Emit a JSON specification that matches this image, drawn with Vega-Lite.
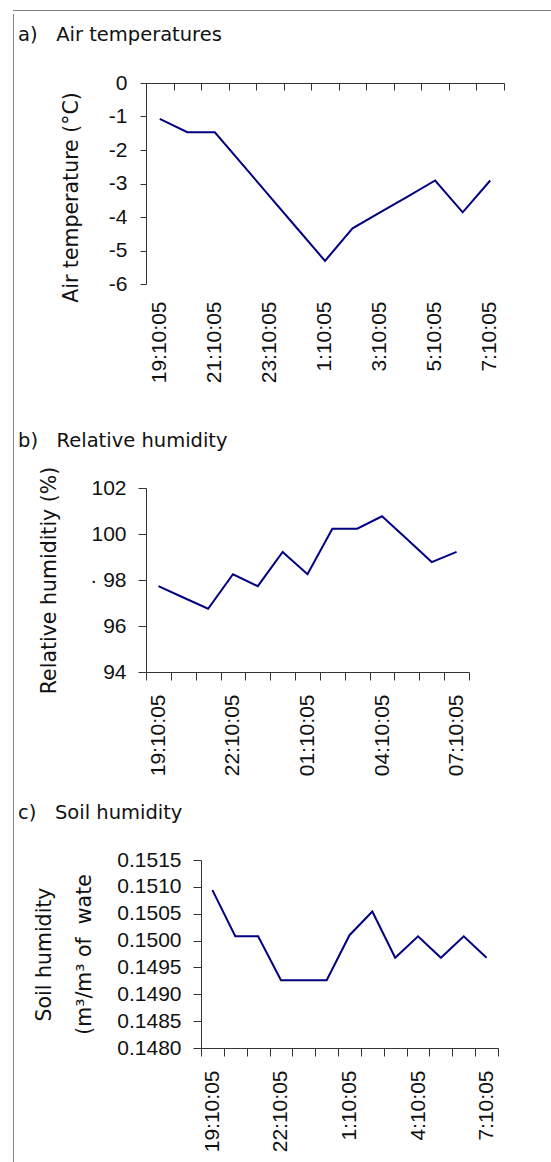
{
  "$schema": "https://vega.github.io/schema/vega-lite/v6.json",
  "padding": {"left": 10, "top": 7, "right": 0, "bottom": 0},
  "background": "white",
  "config": {
    "view": {"stroke": null},
    "font": "DejaVu Sans",
    "axis": {
      "labelFont": "Liberation Sans",
      "labelFontSize": 21,
      "labelColor": "#111111",
      "titleFont": "DejaVu Sans",
      "titleFontSize": 20.5,
      "titleFontWeight": "normal",
      "titleColor": "#111111",
      "domainColor": "#333333",
      "tickColor": "#333333",
      "grid": false,
      "labelOverlap": false,
      "labelFlush": false
    },
    "title": {
      "font": "DejaVu Sans",
      "fontSize": 19.5,
      "fontWeight": "normal",
      "color": "#111111",
      "anchor": "start",
      "frame": "group",
      "baseline": "alphabetic"
    },
    "line": {"color": "#000080", "strokeWidth": 2}
  },
  "datasets": {
    "air": [
      {"time": "19:10:05", "temp": -1.07},
      {"time": "20:10:05", "temp": -1.47},
      {"time": "21:10:05", "temp": -1.47},
      {"time": "22:10:05", "temp": -2.43},
      {"time": "23:10:05", "temp": -3.39},
      {"time": "0:10:05", "temp": -4.35},
      {"time": "1:10:05", "temp": -5.31},
      {"time": "2:10:05", "temp": -4.34},
      {"time": "3:10:05", "temp": -3.86},
      {"time": "4:10:05", "temp": -3.39},
      {"time": "5:10:05", "temp": -2.91},
      {"time": "6:10:05", "temp": -3.86},
      {"time": "7:10:05", "temp": -2.91}
    ],
    "rh": [
      {"time": "19:10:05", "rh": 97.73},
      {"time": "20:10:05", "rh": 97.24},
      {"time": "21:10:05", "rh": 96.75},
      {"time": "22:10:05", "rh": 98.25},
      {"time": "23:10:05", "rh": 97.73},
      {"time": "00:10:05", "rh": 99.22},
      {"time": "01:10:05", "rh": 98.25},
      {"time": "02:10:05", "rh": 100.23},
      {"time": "03:10:05", "rh": 100.23},
      {"time": "04:10:05", "rh": 100.77},
      {"time": "05:10:05", "rh": 99.78},
      {"time": "06:10:05", "rh": 98.78},
      {"time": "07:10:05", "rh": 99.22}
    ],
    "soil": [
      {"time": "19:10:05", "sh": 0.15094},
      {"time": "20:10:05", "sh": 0.15008},
      {"time": "21:10:05", "sh": 0.15008},
      {"time": "22:10:05", "sh": 0.14926},
      {"time": "23:10:05", "sh": 0.14926},
      {"time": "0:10:05", "sh": 0.14926},
      {"time": "1:10:05", "sh": 0.1501},
      {"time": "2:10:05", "sh": 0.15054},
      {"time": "3:10:05", "sh": 0.14968},
      {"time": "4:10:05", "sh": 0.15008},
      {"time": "5:10:05", "sh": 0.14968},
      {"time": "6:10:05", "sh": 0.15008},
      {"time": "7:10:05", "sh": 0.14968}
    ]
  },
  "spacing": 0,
  "vconcat": [
    {
      "width": 541,
      "height": 1,
      "view": {"fill": "#808080", "stroke": null},
      "data": {"values": [{}]},
      "mark": {"type": "point", "opacity": 0},
      "encoding": {}
    },
    {
      "spacing": 1,
      "hconcat": [
        {
          "width": 1,
          "height": 1154,
          "view": {"fill": "#808080", "stroke": null},
          "data": {"values": [{}]},
          "mark": {"type": "point", "opacity": 0},
          "encoding": {}
        },
        {
          "spacing": 0,
          "vconcat": [
            {
              "width": 1,
              "height": 10,
              "view": {"fill": "white", "stroke": null},
              "data": {"values": [{}]},
              "mark": {"type": "point", "opacity": 0},
              "encoding": {}
            },
            {
              "spacing": 47,
              "vconcat": [
                {
                  "width": 358,
                  "height": 201,
                  "title": {"text": "a)\u00a0\u00a0\u00a0Air temperatures", "dx": -128, "offset": 27},
                  "data": {"name": "air"},
                  "encoding": {
                    "y": {
                      "field": "temp",
                      "type": "quantitative",
                      "scale": {"domain": [-6, 0], "nice": false, "zero": false},
                      "axis": {
                        "title": "Air temperature (°C)",
                        "values": [0, -1, -2, -3, -4, -5, -6],
                        "tickSize": 6,
                        "labelPadding": 13,
                        "titlePadding": 27,
                        "titleY": 114,
                        "labelExpr": "replace(datum.label, '\u2212', '-')"
                      }
                    }
                  },
                  "layer": [
                    {
                      "mark": "line",
                      "encoding": {
                        "x": {
                          "field": "time",
                          "type": "ordinal",
                          "sort": null,
                          "scale": {"type": "band", "paddingInner": 0, "paddingOuter": 0},
                          "axis": {
                            "orient": "bottom",
                            "title": null,
                            "domain": false,
                            "ticks": false,
                            "tickSize": 0,
                            "labelAngle": -90,
                            "labelPadding": 17,
                            "labelExpr": "indexof(['19:10:05','21:10:05','23:10:05','1:10:05','3:10:05','5:10:05','7:10:05'], datum.value) >= 0 ? datum.label : ''"
                          }
                        }
                      }
                    },
                    {
                      "mark": {"type": "point", "opacity": 0},
                      "encoding": {
                        "x": {
                          "field": "time",
                          "type": "ordinal",
                          "sort": null,
                          "scale": {"type": "band", "paddingInner": 0, "paddingOuter": 0},
                          "axis": {
                            "orient": "top",
                            "title": null,
                            "labels": false,
                            "tickBand": "extent",
                            "tickSize": -7
                          }
                        }
                      }
                    }
                  ],
                  "resolve": {"axis": {"x": "independent"}}
                },
                {
                  "spacing": 26,
                  "vconcat": [
                    {
                      "width": 323,
                      "height": 184,
                      "title": {"text": "b)\u00a0\u00a0\u00a0Relative humidity", "dx": -128, "offset": 15},
                      "data": {"name": "rh"},
                      "mark": "line",
                      "encoding": {
                        "x": {
                          "field": "time",
                          "type": "ordinal",
                          "sort": null,
                          "scale": {"type": "band", "paddingInner": 0, "paddingOuter": 0},
                          "axis": {
                            "title": null,
                            "tickBand": "extent",
                            "tickSize": 8,
                            "labelPadding": 14,
                            "labelAngle": -90,
                            "labelExpr": "indexof(['19:10:05','22:10:05','01:10:05','04:10:05','07:10:05'], datum.value) >= 0 ? datum.label : ''"
                          }
                        },
                        "y": {
                          "field": "rh",
                          "type": "quantitative",
                          "scale": {"domain": [94, 102], "nice": false, "zero": false},
                          "axis": {
                            "title": "Relative humiditiy (%)",
                            "values": [94, 96, 98, 100, 102],
                            "tickSize": 8,
                            "labelPadding": 12,
                            "titlePadding": 30,
                            "labelExpr": "datum.value == 98 ? '· 98' : datum.label"
                          }
                        }
                      }
                    },
                    {
                      "width": 352,
                      "height": 188,
                      "title": {"text": "c)\u00a0\u00a0\u00a0Soil humidity", "dx": -128, "offset": 26},
                      "data": {"name": "soil"},
                      "mark": "line",
                      "encoding": {
                        "x": {
                          "field": "time",
                          "type": "ordinal",
                          "sort": null,
                          "scale": {"type": "band", "paddingInner": 0, "paddingOuter": 0, "range": [55, 352]},
                          "axis": {
                            "title": null,
                            "tickBand": "extent",
                            "tickSize": 8,
                            "labelPadding": 14,
                            "labelAngle": -90,
                            "labelExpr": "indexof(['19:10:05','22:10:05','1:10:05','4:10:05','7:10:05'], datum.value) >= 0 ? datum.label : ''"
                          }
                        },
                        "y": {
                          "field": "sh",
                          "type": "quantitative",
                          "scale": {"domain": [0.148, 0.1515], "nice": false, "zero": false},
                          "axis": {
                            "title": ["Soil humidity", "(m³/m³ of\u00a0\u00a0wate"],
                            "values": [0.148, 0.1485, 0.149, 0.1495, 0.15, 0.1505, 0.151, 0.1515],
                            "format": ".4f",
                            "offset": -55,
                            "tickSize": 8,
                            "labelPadding": 12,
                            "titlePadding": 22,
                            "titleLineHeight": 40.5
                          }
                        }
                      }
                    }
                  ]
                }
              ]
            }
          ]
        }
      ]
    }
  ]
}
